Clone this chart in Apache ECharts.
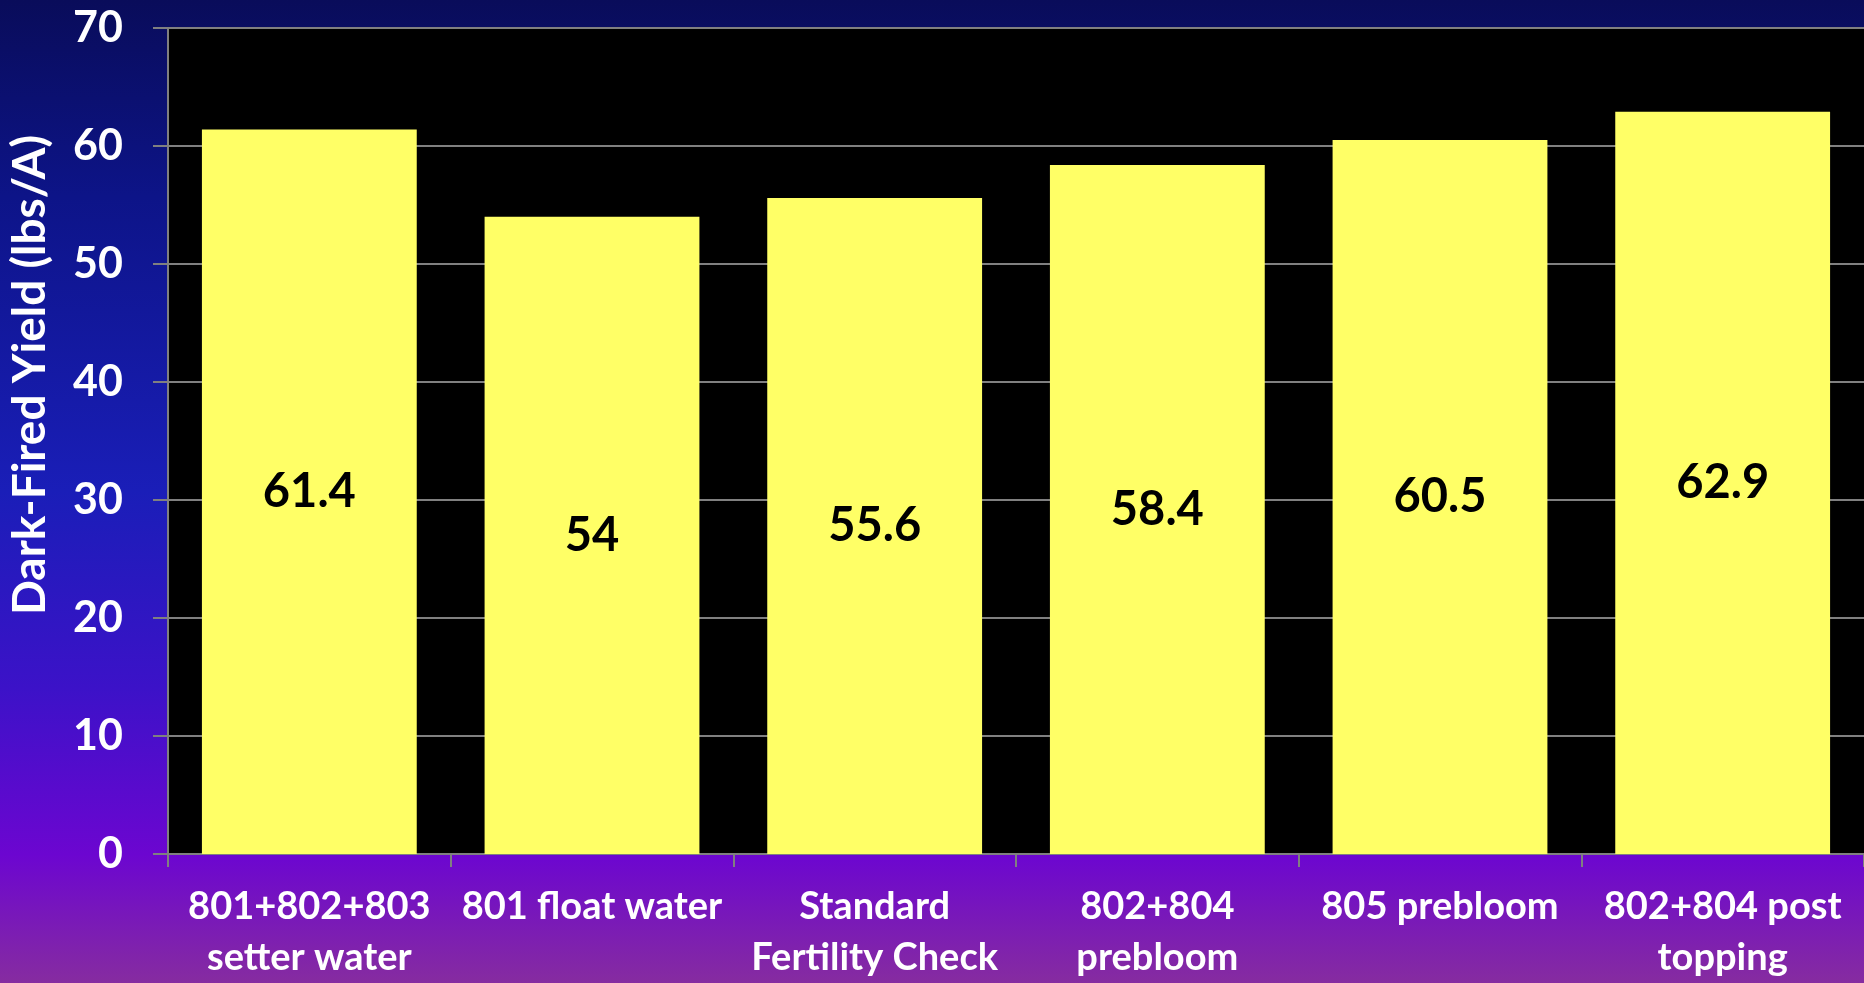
<!DOCTYPE html>
<html>
<head>
<meta charset="utf-8">
<script src="https://cdn.jsdelivr.net/npm/echarts@6/dist/echarts.min.js"></script>
<style>
html,body{margin:0;padding:0;width:1864px;height:983px;overflow:hidden;}
#c{width:1864px;height:983px;}
</style>
</head>
<body>
<div id="c"></div>
<script>
const categories = [
  "801+802+803\nsetter water",
  "801 float water",
  "Standard\nFertility Check",
  "802+804\nprebloom",
  "805 prebloom",
  "802+804 post\ntopping"
];
const yieldValues = [61.4, 54, 55.6, 58.4, 60.5, 62.9];
const yAxisTitle = "Dark-Fired Yield (lbs/A)";
const yMin = 0, yMax = 70, yStep = 10;

const FONT = "Lato, 'Open Sans', sans-serif";
const chart = echarts.init(document.getElementById('c'), null, {renderer: 'canvas'});
chart.setOption({
  backgroundColor: {
    type: 'linear', x: 0, y: 0, x2: 0, y2: 1,
    colorStops: [
      {offset: 0, color: '#090c5a'},
      {offset: 0.2, color: '#0d1488'},
      {offset: 0.5, color: '#1a1eb8'},
      {offset: 0.7, color: '#3c12c8'},
      {offset: 0.87, color: '#6c06d0'},
      {offset: 1, color: '#862ca0'}
    ]
  },
  animation: false,
  grid: {
    left: 168, top: 28, width: 1705, bottom: 128,
    show: true, backgroundColor: '#000000', borderWidth: 0,
    containLabel: false
  },
  xAxis: {
    type: 'category',
    data: categories,
    axisLine: {show: true, lineStyle: {color: '#808080', width: 2}},
    axisTick: {show: true, length: 13, lineStyle: {color: '#808080', width: 2}},
    axisLabel: {
      color: '#ffffff', fontFamily: FONT, fontWeight: 'bold', fontSize: 38,
      lineHeight: 51, margin: 27, interval: 0
    }
  },
  yAxis: {
    type: 'value', min: yMin, max: yMax, interval: yStep,
    axisLine: {show: true, lineStyle: {color: '#808080', width: 2}},
    axisTick: {show: true, length: 15, lineStyle: {color: '#808080', width: 2}},
    splitLine: {show: true, lineStyle: {color: '#808080', width: 2}},
    axisLabel: {
      color: '#ffffff', fontFamily: FONT, fontWeight: 'bold', fontSize: 43, margin: 45
    }
  },
  graphic: [{
    type: 'text',
    x: 30, y: 375,
    rotation: Math.PI / 2,
    style: {
      text: yAxisTitle,
      fill: '#ffffff',
      font: 'bold 46px ' + FONT,
      align: 'center',
      verticalAlign: 'middle'
    }
  }],
  series: [{
    type: 'bar',
    data: yieldValues,
    barCategoryGap: '24%',
    itemStyle: {color: '#ffff66'},
    label: {
      show: true, position: 'inside',
      color: '#000000', fontFamily: FONT, fontWeight: 'bold', fontSize: 47
    }
  }]
});
</script>
</body>
</html>
